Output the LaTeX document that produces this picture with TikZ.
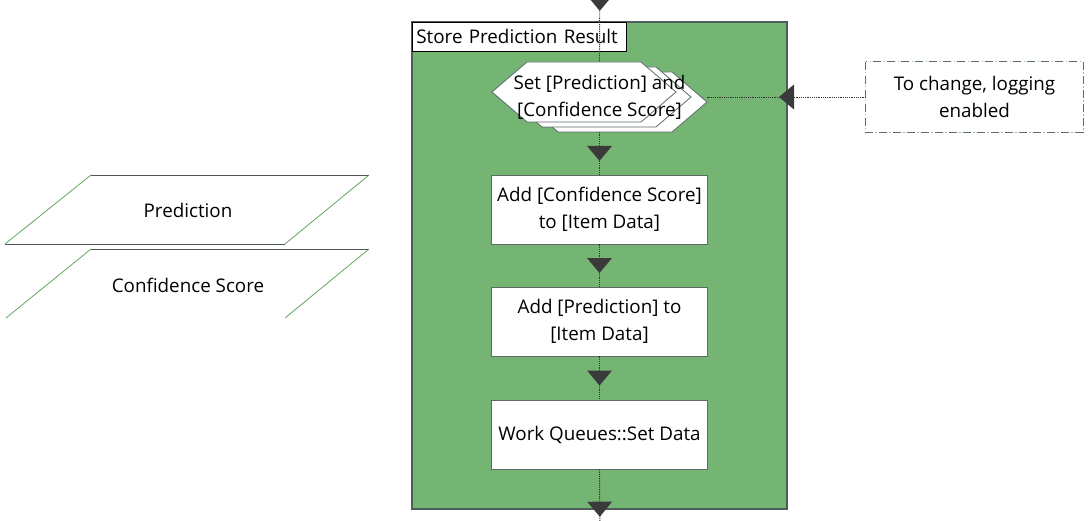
\documentclass[tikz,border=0pt]{standalone}
\usepackage{fontspec}
\setmainfont{Open Sans}
\usetikzlibrary{decorations.markings}
\definecolor{cgreen}{HTML}{74B574}
\definecolor{cborder}{HTML}{4E5C5C}
\definecolor{carrow}{HTML}{3A3A3A}
\definecolor{cline}{HTML}{333333}
\definecolor{cbox}{HTML}{5E6A6A}
\definecolor{cslant}{HTML}{5FA85F}
\definecolor{cpara}{HTML}{4A5555}
\tikzset{
  lbl/.style={font=\fontsize{18.8}{27}\selectfont, text=black},
  stepbox/.style={lbl, draw=cbox, fill=white, line width=0.8pt, minimum width=216pt, minimum height=69pt, inner sep=0pt, align=center},
  conn/.style={draw=cline, line width=0.9pt, dash pattern=on 1.2pt off 1pt,
    postaction={decorate},
    decoration={markings, mark=at position 0.5 with {\fill[carrow] (7.5pt,0pt) -- (-7.5pt,12.5pt) -- (-7.5pt,-12.5pt) -- cycle;}}},
  hexshape/.style={fill=white, draw=cbox, line width=0.8pt},
}
\begin{document}
\begin{tikzpicture}[x=1pt,y=-1pt]
\useasboundingbox (0,0) rectangle (1091,521);
% container
\draw[fill=cgreen, draw=cborder, line width=1.2pt] (412,22) rectangle (787,509);
\node[lbl, draw=black, fill=white, line width=0.8pt, anchor=north west, minimum width=214pt, minimum height=29pt, inner sep=0pt, text width=210pt, align=left] (title) at (412,22) {\hspace*{2pt}Store Prediction Result};
% hexagon stack
\foreach \dx/\dy in {31/10, 15/5, 0/0}{
  \draw[hexshape] (492+\dx,92+\dy) -- (527+\dx,62+\dy) -- (641+\dx,62+\dy) -- (676+\dx,92+\dy) -- (641+\dx,122+\dy) -- (527+\dx,122+\dy) -- cycle;
}
\node[lbl, minimum width=215pt, minimum height=70pt, inner sep=0pt, align=center] (hex) at (599.5,97) {Set [Prediction] and\\{}[Confidence Score]};
% boxes
\node[stepbox] (b1) at (599.5,209.5) {Add [Confidence Score]\\to [Item Data]};
\node[stepbox] (b2) at (599.5,321.5) {Add [Prediction] to\\{}[Item Data]};
\node[stepbox] (b3) at (599.5,434.5) {Work Queues::Set Data};
% note
\node[lbl, minimum width=217pt, minimum height=70pt, inner sep=0pt, align=center] (note) at (974.5,97) {To change, logging\\enabled};
\draw[draw=cbox, line width=0.8pt, dash pattern=on 8pt off 6pt] (note.north west) rectangle (note.south east);
\draw[draw=cslant!70, line width=0.8pt, dash pattern=on 1.5pt off 12.5pt, dash phase=-10pt] (note.north west) rectangle (note.south east);
% parallelograms
\node[lbl] (pred) at (188,210) {Prediction};
\node[lbl] (conf) at (188,285) {Confidence Score};
\draw[cpara, line width=0.8pt] (91,175) -- (369,175);
\draw[cpara, line width=0.8pt] (5,244) -- (285,244);
\draw[cslant, line width=0.8pt] (5,244) -- (91,175);
\draw[cslant, line width=0.8pt] (285,244) -- (369,175);
\draw[cpara, line width=0.8pt] (91,249) -- (369,249);
\draw[cslant, line width=0.8pt] (6,318) -- (91,249);
\draw[cslant, line width=0.8pt] (285,318) -- (369,249);
% connectors
\coordinate (topin) at (600,-55);
\coordinate (botout) at (600,549);
\draw[conn] (topin) -- (hex.north);
\draw[conn] (hex.south) -- (b1.north);
\draw[conn] (b1.south) -- (b2.north);
\draw[conn] (b2.south) -- (b3.north);
\draw[conn] (b3.south) -- (botout);
\draw[conn] (note.west) -- (hex.east);
\end{tikzpicture}
\end{document}
